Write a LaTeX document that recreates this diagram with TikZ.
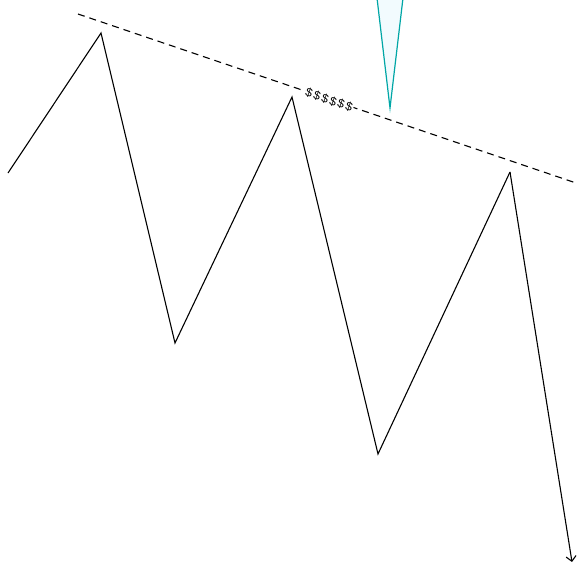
\documentclass[tikz,border=0pt]{standalone}
\usepackage{fontspec}
\setmainfont{Liberation Sans}
\usetikzlibrary{arrows.meta}
\newcommand{\dl}{\$\kern1.8pt}
\begin{document}
\begin{tikzpicture}[x=1pt,y=-1pt,
  price/.style={line width=1.1pt,black,line join=miter},
  trend/.style={line width=1.1pt,black,dash pattern=on 7pt off 5pt},
  spike/.style={draw=teal!70!cyan,fill=cyan!5,line width=1.2pt},
  lbl/.style={font=\fontsize{12}{12}\selectfont,inner sep=1pt,fill=white,rotate=-19}]
\useasboundingbox (0,0) rectangle (579,562);
\coordinate (p0) at (8,173);
\coordinate (p1) at (101,33);
\coordinate (p2) at (175,343);
\coordinate (p3) at (292,97);
\coordinate (p4) at (378,454);
\coordinate (p5) at (510,172);
\coordinate (p6) at (572,562);
\coordinate (t0) at (78,14);
\coordinate (t1) at (576,183);
\coordinate (s0) at (377,-2);
\coordinate (s1) at (390,108);
\coordinate (s2) at (403,-2);
\draw[trend] (t0) -- (t1);
\draw[spike] (s0) -- (s1) -- (s2);
\node[lbl] (money) at (329,100) {\dl\dl\dl\dl\dl\$};
\draw[price] (p0) -- (p1) -- (p2) -- (p3) -- (p4) -- (p5);
\draw[price,-{Straight Barb[length=5pt,width=10pt]}] (p5) -- (p6);
\end{tikzpicture}
\end{document}
